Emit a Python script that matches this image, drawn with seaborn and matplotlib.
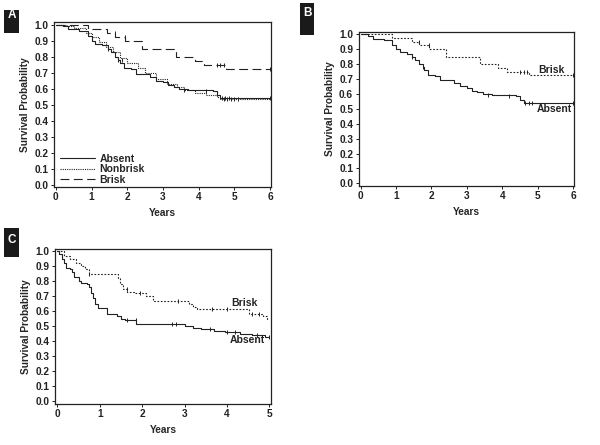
import matplotlib
matplotlib.use("Agg")
import matplotlib.pyplot as plt
from matplotlib.patches import Rectangle
import seaborn as sns
import numpy as np

# --- Data ---
# Panel A / B: Absent
absent_t = [0, 0.2, 0.35, 0.65, 0.9, 1.0, 1.1, 1.3, 1.45, 1.55, 1.65, 1.75, 1.8, 1.9, 2.1, 2.25,
            2.5, 2.65, 2.8, 3.0, 3.15, 3.3, 3.45, 3.7, 4.4, 4.5, 4.6, 6.0]
absent_s = [1.0, 0.99, 0.97, 0.96, 0.93, 0.90, 0.88, 0.87, 0.85, 0.83, 0.80, 0.78, 0.76, 0.73, 0.72, 0.69,
            0.69, 0.67, 0.65, 0.64, 0.62, 0.61, 0.60, 0.59, 0.585, 0.56, 0.54, 0.54]
absent_cens_t = [1.45, 1.75, 3.6, 4.2, 4.65, 4.75, 4.85, 6.0]
absent_cens_s = [0.85, 0.78, 0.59, 0.585, 0.54, 0.54, 0.54, 0.54]

# Panel A: Nonbrisk
nonbrisk_t = [0, 0.3, 0.5, 0.85, 1.0, 1.2, 1.4, 1.6, 1.8, 2.0, 2.3, 2.5, 2.8, 3.1, 3.4, 3.6,
              3.9, 4.2, 4.5, 4.6, 6.0]
nonbrisk_s = [1.0, 0.99, 0.98, 0.95, 0.92, 0.89, 0.86, 0.83, 0.79, 0.76, 0.73, 0.70, 0.66, 0.63, 0.61, 0.59,
              0.57, 0.56, 0.55, 0.535, 0.535]
nonbrisk_cens_t = [1.85, 4.7, 4.8, 4.9, 5.0, 5.1]
nonbrisk_cens_s = [0.78, 0.535, 0.535, 0.535, 0.535, 0.535]

# Panel A / B: Brisk
brisk_t = [0, 0.9, 1.44, 1.65, 1.93, 2.42, 3.36, 3.89, 4.14, 4.76, 6.0]
brisk_s = [1.0, 0.975, 0.95, 0.925, 0.90, 0.85, 0.80, 0.775, 0.75, 0.725, 0.725]
brisk_cens_t = [1.65, 1.93, 4.5, 4.6, 4.7, 6.0]
brisk_cens_s = [0.95, 0.925, 0.75, 0.75, 0.75, 0.725]

# Panel C: Absent
c_absent_t = [0, 0.05, 0.1, 0.15, 0.2, 0.3, 0.35, 0.4, 0.5, 0.55, 0.7, 0.75, 0.8, 0.85, 0.9, 0.95,
              1.18, 1.4, 1.5, 1.6, 1.85, 3.0, 3.2, 3.4, 3.7, 3.95, 4.3, 4.6, 4.9, 5.0]
c_absent_s = [1.0, 0.98, 0.95, 0.92, 0.89, 0.88, 0.86, 0.83, 0.80, 0.79, 0.78, 0.76, 0.72, 0.69, 0.65, 0.62,
              0.58, 0.57, 0.55, 0.54, 0.515, 0.505, 0.49, 0.48, 0.47, 0.46, 0.45, 0.44, 0.43, 0.43]
c_absent_cens_t = [1.65, 1.85, 2.7, 2.8, 3.6, 4.0, 4.2, 4.7, 5.0]
c_absent_cens_s = [0.54, 0.54, 0.515, 0.515, 0.48, 0.46, 0.46, 0.44, 0.43]

# Panel C: Brisk
c_brisk_t = [0, 0.15, 0.3, 0.45, 0.55, 0.65, 0.75, 1.42, 1.47, 1.55, 1.65, 1.8, 2.0, 2.1, 2.25,
             3.1, 3.2, 3.3, 4.52, 4.85, 4.95, 5.0]
c_brisk_s = [1.0, 0.97, 0.95, 0.92, 0.90, 0.88, 0.85, 0.82, 0.78, 0.75, 0.73, 0.72, 0.72, 0.70, 0.67,
             0.65, 0.63, 0.615, 0.58, 0.57, 0.55, 0.55]
c_brisk_cens_t = [0.75, 1.65, 1.95, 2.85, 3.65, 4.0, 4.6, 4.75]
c_brisk_cens_s = [0.85, 0.75, 0.72, 0.67, 0.615, 0.615, 0.58, 0.58]

sns.set_style("white")
plt.rcParams['font.family'] = ['Liberation Sans', 'DejaVu Sans']
plt.rcParams['font.weight'] = 'bold'

ink = '#222222'
fig = plt.figure(figsize=(6, 4.45), dpi=100)


def km(ax, t, s, ct, cs, ls, lw=0.8, label=None):
    sns.lineplot(x=t, y=s, ax=ax, drawstyle='steps-post', color=ink, linestyle=ls,
                 linewidth=lw, label=label, legend=False, errorbar=None, sort=False,
                 estimator=None)
    sns.scatterplot(x=ct, y=cs, ax=ax, marker='|', s=12, color=ink, linewidth=0.7, legend=False)


def style_axes(ax, xmax):
    ax.set_xlim(-0.05, xmax + 0.03)
    ax.set_ylim(-0.015, 1.015)
    ax.set_xticks(range(0, xmax + 1))
    ax.set_yticks(np.arange(0, 1.01, 0.1))
    ax.set_yticklabels([f"{v:.1f}" for v in np.arange(0, 1.01, 0.1)])
    ax.tick_params(axis='both', labelsize=7.3, length=2.5, width=0.7, pad=1.5, direction='out',
                   bottom=True, left=True, colors=ink)
    for sp in ax.spines.values():
        sp.set_color(ink)
        sp.set_linewidth(0.9)
    ax.set_xlabel('Years', fontsize=7.3, fontweight='bold', labelpad=4)
    ax.set_ylabel('Survival Probability', fontsize=7.3, fontweight='bold', labelpad=3)


def panel_tag(x0, y0, x1, y1, ty, letter):
    # box given in pixel coordinates from the top-left corner, ty = letter centre
    W, H = 600, 445
    fig.patches.append(Rectangle((x0 / W, 1 - y1 / H), (x1 - x0) / W, (y1 - y0) / H,
                                 transform=fig.transFigure, facecolor='#1a1a1a',
                                 edgecolor='none', zorder=5))
    fig.text((x0 + x1) / 2 / W, 1 - ty / H, letter, ha='center', va='center',
             color='white', fontsize=8.5, fontweight='bold', zorder=6)


# Panel A
axA = fig.add_axes([0.09, 0.58, 0.362, 0.37])
km(axA, absent_t, absent_s, absent_cens_t, absent_cens_s, '-', label='Absent')
km(axA, nonbrisk_t, nonbrisk_s, nonbrisk_cens_t, nonbrisk_cens_s, (0, (1, 1)), label='Nonbrisk')
km(axA, brisk_t, brisk_s, brisk_cens_t, brisk_cens_s, (0, (8, 4)), label='Brisk')
style_axes(axA, 6)
axA.legend(loc='lower left', bbox_to_anchor=(0.028, 0.012), fontsize=7.5, frameon=False,
           handlelength=3.4, handletextpad=0.4, labelspacing=0.05, borderaxespad=0,
           borderpad=0)

# Panel B
axB = fig.add_axes([0.598, 0.583, 0.359, 0.345])
km(axB, absent_t, absent_s, absent_cens_t, absent_cens_s, '-')
km(axB, brisk_t, brisk_s, brisk_cens_t, brisk_cens_s, (0, (1.5, 1.5)))
style_axes(axB, 6)
axB.text(5.01, 0.76, 'Brisk', fontsize=7.5, fontweight='bold', color=ink, va='center')
axB.text(4.97, 0.50, 'Absent', fontsize=7.5, fontweight='bold', color=ink, va='center')

# Panel C
axC = fig.add_axes([0.092, 0.093, 0.359, 0.347])
km(axC, c_absent_t, c_absent_s, c_absent_cens_t, c_absent_cens_s, '-')
km(axC, c_brisk_t, c_brisk_s, c_brisk_cens_t, c_brisk_cens_s, (0, (1.5, 1.5)))
style_axes(axC, 5)
axC.text(4.11, 0.657, 'Brisk', fontsize=7.5, fontweight='bold', color=ink, va='center')
axC.text(4.07, 0.406, 'Absent', fontsize=7.5, fontweight='bold', color=ink, va='center')

panel_tag(4, 10, 19, 33, 15, 'A')
panel_tag(300, 3, 314, 35, 13, 'B')
panel_tag(4, 228, 19, 257, 240, 'C')

fig.savefig('out.png', dpi=100)
